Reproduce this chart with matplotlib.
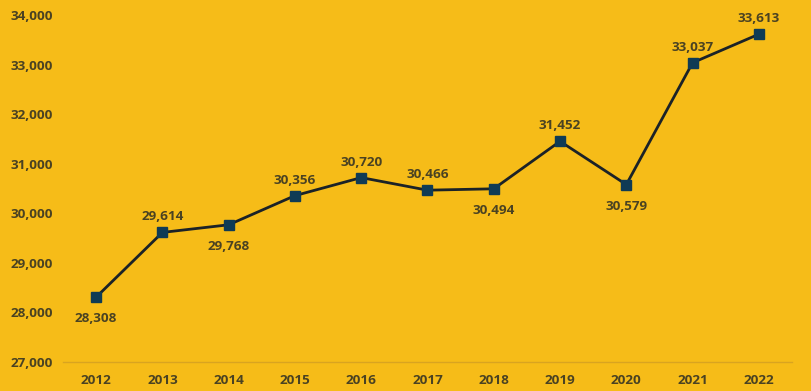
import matplotlib
matplotlib.use("Agg")
import matplotlib.pyplot as plt
from matplotlib.ticker import FuncFormatter

years = ["2012", "2013", "2014", "2015", "2016", "2017", "2018", "2019", "2020", "2021", "2022"]
values = [28308, 29614, 29768, 30356, 30720, 30466, 30494, 31452, 30579, 33037, 33613]
label_below = [True, False, True, False, False, False, True, False, True, False, False]

bg = "#F6BC18"
txt = "#4A4222"

plt.rcParams['font.family'] = ['Open Sans', 'DejaVu Sans']
fig = plt.figure(figsize=(8.12, 3.91), dpi=100, facecolor=bg)
ax = fig.add_axes([63/812, 29/391, (792-63)/812, (362-15)/391])
ax.set_facecolor(bg)

x = list(range(len(years)))
ax.plot(x, values, color="#1B2227", lw=2, marker="s", markersize=6.5,
        markerfacecolor="#0F3B55", markeredgecolor="#0F3B55", zorder=3)

for xi, v, below in zip(x, values, label_below):
    ax.annotate(f"{v:,}", (xi, v), xytext=(0, -11 if below else 6.5), textcoords="offset points",
                ha="center", va="top" if below else "bottom", fontsize=9.7, fontweight="bold", color=txt)

ax.set_xlim(-0.5, 10.5)
ax.set_ylim(27000, 34000)
ax.set_yticks(range(27000, 34001, 1000))
ax.yaxis.set_major_formatter(FuncFormatter(lambda v, p: f"{int(v):,}"))
ax.set_xticks(x)
ax.set_xticklabels(years)
for s in ["top", "right", "left"]:
    ax.spines[s].set_visible(False)
ax.spines["bottom"].set_color("#D9A420")
ax.spines["bottom"].set_linewidth(1)
ax.tick_params(axis="both", length=0, labelsize=9.7, labelcolor=txt)
ax.tick_params(axis="x", pad=9)
ax.tick_params(axis="y", pad=7)
for lbl in ax.get_xticklabels() + ax.get_yticklabels():
    lbl.set_fontweight("bold")

fig.savefig("out.png", dpi=100, facecolor=bg)
